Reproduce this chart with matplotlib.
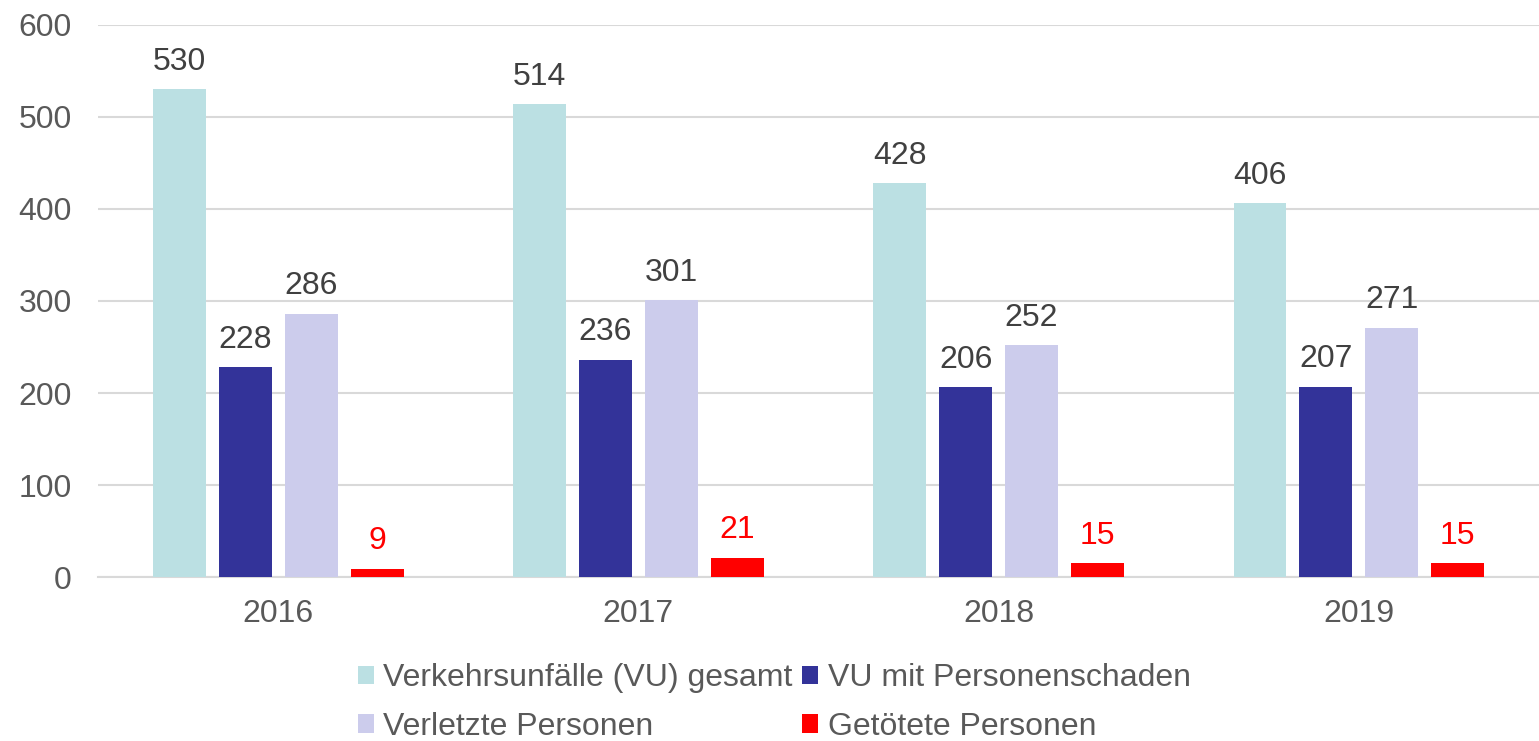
import matplotlib.pyplot as plt
import numpy as np

plt.rcParams['font.family'] = ['Liberation Sans', 'DejaVu Sans']

years = ['2016', '2017', '2018', '2019']
series = ['Verkehrsunfälle (VU) gesamt', 'VU mit Personenschaden',
          'Verletzte Personen', 'Getötete Personen']
vu_gesamt = [530, 514, 428, 406]
vu_personen = [228, 236, 206, 207]
verletzte = [286, 301, 252, 271]
getoetete = [9, 21, 15, 15]
colors = ['#BBE0E3', '#333399', '#CCCCEC', '#FF0000']

fig = plt.figure(figsize=(15.39, 7.41), dpi=100)
ax = fig.add_axes([0.0637, 0.2213, 0.9363, 0.745])

x = np.arange(len(years))
width = 0.147
pitch = 0.183
values = [vu_gesamt, vu_personen, verletzte, getoetete]
handles = []
for i, (name, vals, c) in enumerate(zip(series, values, colors)):
    pos = x + (i - 1.5) * pitch
    bars = ax.bar(pos, vals, width, color=c, label=name, zorder=3)
    handles.append(bars)
    lc = '#FF0000' if i == 3 else '#404040'
    for b, v in zip(bars, vals):
        ax.annotate(str(v), (b.get_x() + b.get_width() / 2, v),
                    xytext=(0, 9), textcoords='offset points',
                    ha='center', va='bottom', fontsize=23, color=lc)

ax.set_xlim(-0.5, 3.5)
ax.set_ylim(0, 600)
ax.set_yticks(range(0, 601, 100))
ax.set_xticks(x)
ax.set_xticklabels(years)
ax.grid(axis='y', color='#D9D9D9', linewidth=1.5, zorder=0)
for s in ['top', 'right', 'left']:
    ax.spines[s].set_visible(False)
ax.spines['bottom'].set_color('#D9D9D9')
ax.spines['bottom'].set_linewidth(1.5)
ax.tick_params(axis='both', length=0, labelsize=23, labelcolor='#595959')
ax.tick_params(axis='x', pad=16)
ax.tick_params(axis='y', pad=19)

order = [0, 2, 1, 3]
leg = fig.legend([handles[k] for k in order], [series[k] for k in order],
                 loc='lower center', bbox_to_anchor=(0.503, -0.04), ncol=2,
                 frameon=False, fontsize=23, handlelength=0.5, handleheight=0.5,
                 handletextpad=0.3, columnspacing=0.3, labelspacing=0.58)
for t in leg.get_texts():
    t.set_color('#595959')

fig.savefig('out.png', dpi=100)
